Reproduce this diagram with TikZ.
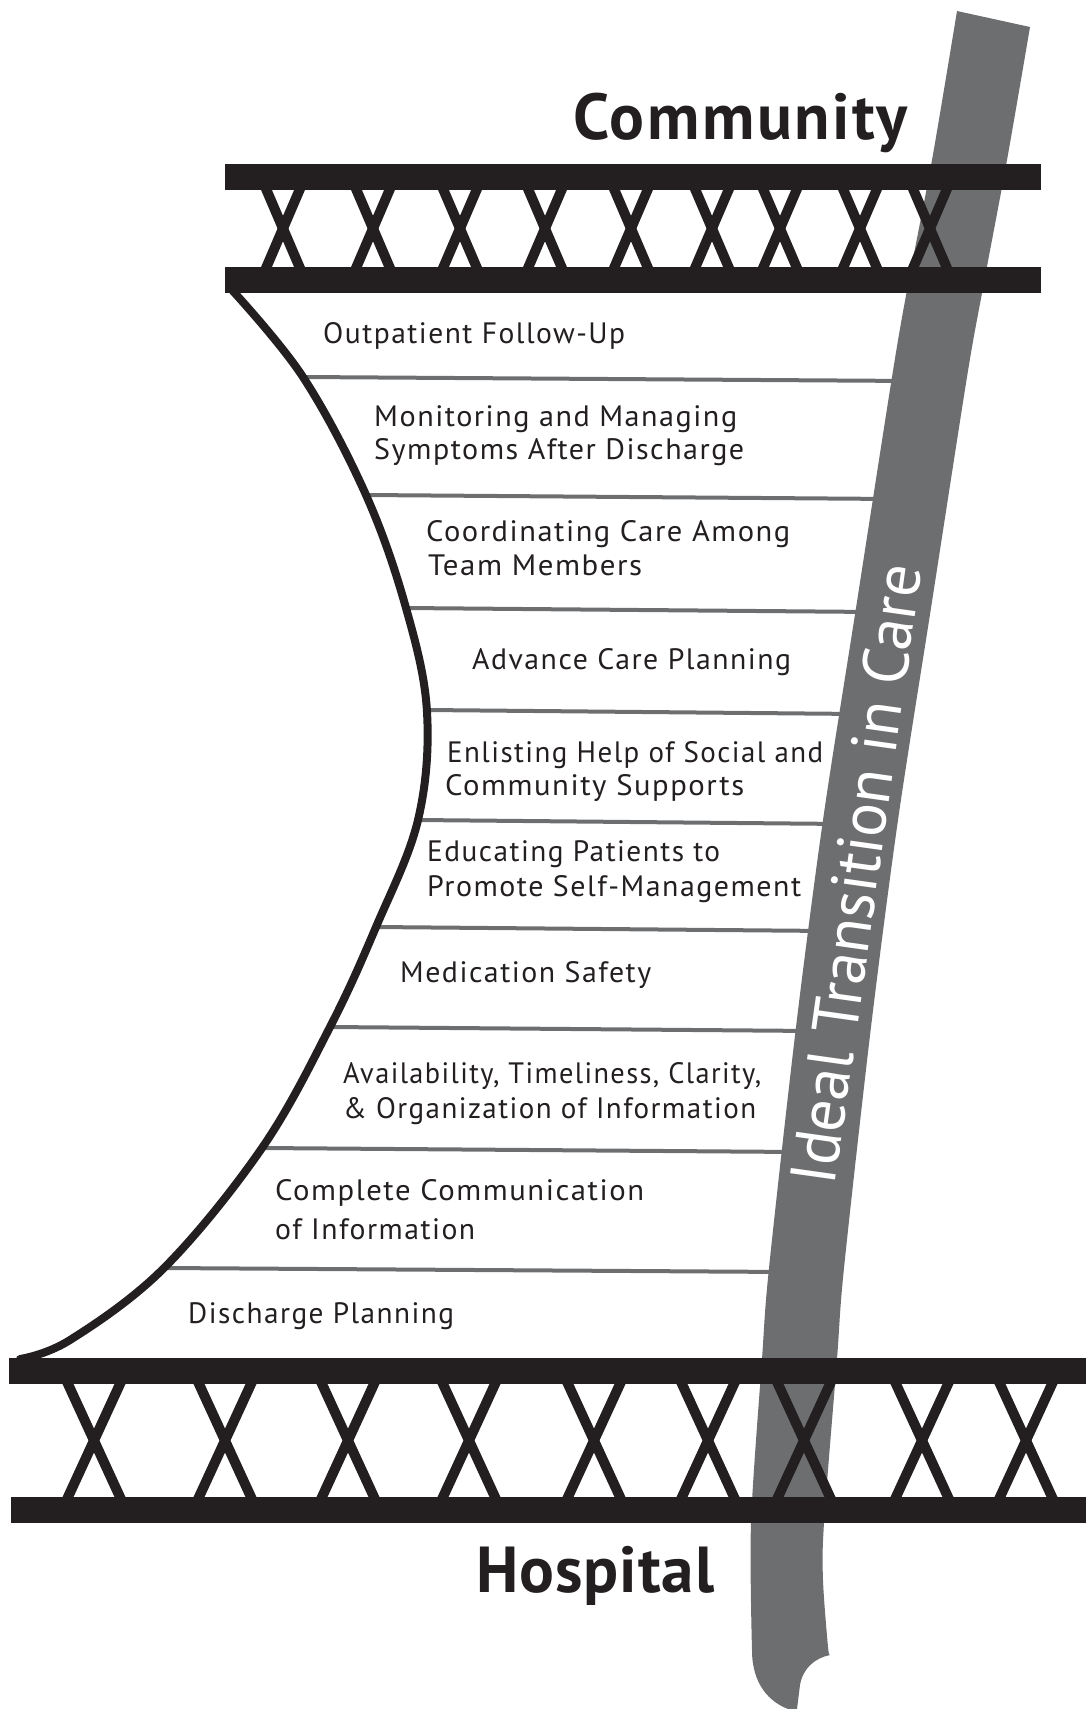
\documentclass[tikz,border=0pt]{standalone}
\usepackage{graphicx}
\usepackage{fontspec}
\setmainfont{PT Sans}
\newfontfamily\lblfont[LetterSpace=5]{PT Sans}
\newfontfamily\comfont[LetterSpace=4]{PT Sans}
\newfontfamily\hosfont[LetterSpace=1.5]{PT Sans}
\newcommand{\fitw}[2]{\resizebox{#1pt}{\height}{#2}}
\definecolor{ink}{RGB}{35,31,32}
\definecolor{band}{RGB}{109,110,112}
\tikzset{
  lbl/.style={anchor=base west, inner sep=0pt, text=ink, font=\lblfont\fontsize{29.5}{34}\selectfont},
  title/.style={anchor=base west, inner sep=0pt, text=ink},
  divider/.style={draw=band, line width=4pt},
  edgecurve/.style={draw=ink, line width=8pt, line cap=round},
  xleg/.style={draw=ink, line width=10pt},
  beam/.style={fill=ink},
}
\begin{document}
\begin{tikzpicture}[x=1pt,y=-1pt]
\useasboundingbox (0,0) rectangle (1086,1709);

% dividers between steps
\foreach \xl/\yy/\xr in {303/377/915, 366/495/895, 406/608/875, 427/710/860, 418/820/845, 376/927/830, 330/1027/815, 262/1148/800, 164/1268/790}
  \draw[divider] (\xl,\yy) -- (\xr,\yy+4);

% left curved edge
\draw[edgecurve] plot[smooth, tension=0.6] coordinates {(232,290) (303,377) (366,495) (406,608) (427,712) (418,820) (376,927) (330,1027) (262,1148) (164,1268) (70,1340) (20,1359)};

% gray band
\fill[band] (957,11) -- (1030,27)
  -- plot[smooth, tension=0.5] coordinates {(1030,27) (1007,160) (982,293) (967,377) (931,608) (898,820) (871,1027) (844,1268) (837,1359) (824,1523) (823,1580) (828,1647) (830,1655)}
  .. controls (815,1658) and (803,1668) .. (800,1685) -- (797,1709) -- (788,1709)
  .. controls (770,1702) and (752,1685) .. (752,1650)
  -- plot[smooth, tension=0.5] coordinates {(752,1650) (751,1523) (762,1359) (769,1268) (796,1027) (823,820) (856,608) (892,377) (907,290) (932,160) (957,11)} -- cycle;

% top bridge
\foreach \c in {283,373,460,545,631,712,780,860,930} {
  \draw[xleg] (\c-20.8,180) -- (\c+20.8,277);
  \draw[xleg] (\c+20.8,180) -- (\c-20.8,277);
}
\fill[beam] (225,164) rectangle (1041,190);
\fill[beam] (225,267) rectangle (1041,293);

% bottom bridge
\foreach \c in {94,225,348,469,594,708,804,922,1026} {
  \draw[xleg] (\c-30.6,1374) -- (\c+30.6,1507);
  \draw[xleg] (\c+30.6,1374) -- (\c-30.6,1507);
}
\fill[beam] (9,1358) rectangle (1086,1384);
\fill[beam] (11,1497) rectangle (1086,1523);

% titles
\node[title, font=\comfont\fontsize{65}{65}\selectfont\bfseries] (community) at (573,139) {Community};
\node[title, font=\hosfont\fontsize{65}{65}\selectfont\bfseries] (hospital) at (476,1592) {Hospital};

% band text
\node[rotate=82, text=white, inner sep=0pt] (ideal) at (856,874) {\resizebox{624pt}{46pt}{\fontsize{60}{60}\selectfont Ideal Transition in Care}};

% step labels
\node[lbl] (l1) at (323,343) {\fitw{302}{Outpatient Follow-Up}};
\node[lbl] (l2a) at (374,426) {\fitw{363}{Monitoring and Managing}};
\node[lbl] (l2b) at (374,459) {\fitw{370}{Symptoms After Discharge}};
\node[lbl] (l3a) at (426,541) {\fitw{364}{Coordinating Care Among}};
\node[lbl] (l3b) at (428,575) {\fitw{214}{Team Members}};
\node[lbl] (l4) at (472,669) {\fitw{319}{Advance Care Planning}};
\node[lbl] (l5a) at (447,762) {\fitw{376}{Enlisting Help of Social and}};
\node[lbl] (l5b) at (445,795) {\fitw{299}{Community Supports}};
\node[lbl] (l6a) at (427,861) {\fitw{293}{Educating Patients to}};
\node[lbl] (l6b) at (427,896) {\fitw{374}{Promote Self-Management}};
\node[lbl] (l7) at (400,982) {\fitw{251}{Medication Safety}};
\node[lbl] (l8a) at (343,1083) {\fitw{418}{Availability, Timeliness, Clarity,}};
\node[lbl] (l8b) at (343,1118) {\fitw{413}{\& Organization of Information}};
\node[lbl] (l9a) at (275,1200) {\fitw{369}{Complete Communication}};
\node[lbl] (l9b) at (275,1239) {\fitw{200}{of Information}};
\node[lbl] (l10) at (188,1323) {\fitw{266}{Discharge Planning}};
\end{tikzpicture}
\end{document}
